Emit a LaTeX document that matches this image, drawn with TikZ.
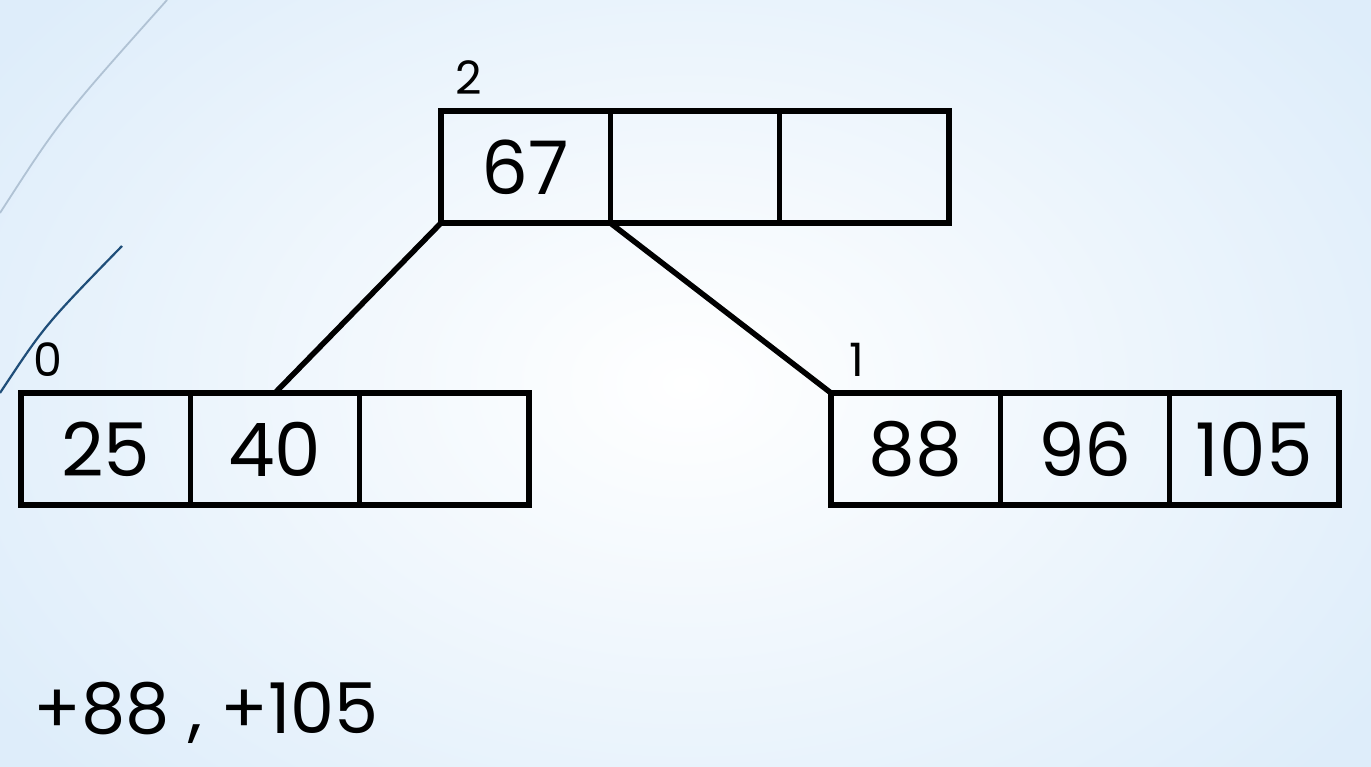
\documentclass[tikz,border=0pt]{standalone}
\usepackage{fontspec}
\setmainfont{Poppins}
\definecolor{bgblue}{RGB}{222,237,250}
\definecolor{arcgrey}{RGB}{176,194,212}
\definecolor{arcblue}{RGB}{31,78,121}
\begin{document}
\begin{tikzpicture}[x=1pt,y=-1pt,
  cell/.style={draw=black, line width=5.5pt, rectangle, inner sep=0pt, outer sep=0pt,
    minimum width=169.3pt, minimum height=112pt,
    font=\fontsize{74}{80}\selectfont},
  idx/.style={anchor=base, inner sep=0pt, font=\fontsize{46}{50}\selectfont},
  link/.style={line width=5.5pt, line cap=round}]
% page and background
\useasboundingbox (0,0) rectangle (1371,767);
\shade[inner color=white, outer color=bgblue] (-150,-200) rectangle (1521,967);
% decorative arcs
\draw[arcgrey, line width=1.8pt] (0,213) .. controls (60,120) .. (167,0);
\draw[arcblue, line width=2.2pt] (0,393) .. controls (45,325) .. (122,246);
% root node
\node[cell] (t1) at (525.65,167) {67};
\node[cell] (t2) at (694.95,167) {};
\node[cell] (t3) at (864.25,167) {};
% left child
\node[cell] (l1) at (105.65,449) {25};
\node[cell] (l2) at (274.95,449) {40};
\node[cell] (l3) at (444.25,449) {};
% right child
\node[cell] (r1) at (915.65,449) {88};
\node[cell] (r2) at (1084.95,449) {96};
\node[cell] (r3) at (1254.25,449) {105};
% page numbers
\node[idx] (p2) at (469,95) {2};
\node[idx] (p0) at (48,376) {0};
\node[idx] (p1) at (857,376) {1};
% edges
\draw[link] (t1.south west) -- (l2.north);
\draw[link] (t1.south east) -- (r1.north west);
% inserted keys
\node[anchor=base west, inner sep=0pt, font=\fontsize{70}{76}\selectfont] (ins) at (33,733) {+88 , +105};
\end{tikzpicture}
\end{document}
